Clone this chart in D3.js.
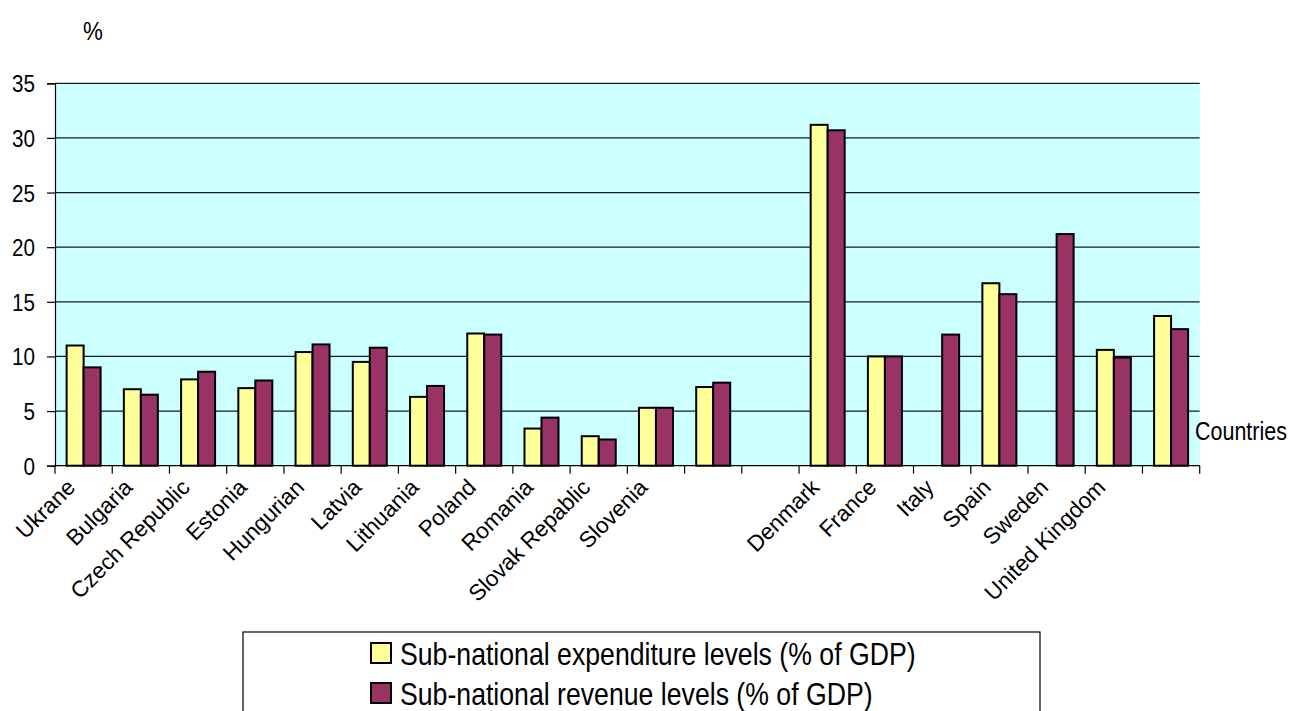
<!DOCTYPE html>
<html>
<head>
<meta charset="utf-8">
<script src="https://cdn.jsdelivr.net/npm/d3@7"></script>
<style>
  html, body { margin: 0; padding: 0; background: #fff; }
  svg { display: block; font-family: "Liberation Sans", Arial, sans-serif; }
</style>
</head>
<body>
<svg id="chart" width="1291" height="711"></svg>
<script>
// Category labels (blank entries are unlabeled groups on the axis)
const countries = [
  "Ukrane", "Bulgaria", "Czech Republic", "Estonia", "Hungurian", "Latvia",
  "Lithuania", "Poland", "Romania", "Slovak Repablic", "Slovenia", "", "",
  "Denmark", "France", "Italy", "Spain", "Sweden", "United Kingdom", ""
];
// Sub-national expenditure levels (% of GDP)
const expenditure = [
  11.0, 7.0, 7.9, 7.1, 10.4, 9.5, 6.3, 12.1, 3.4, 2.7, 5.3, 7.2, null,
  31.2, 10.0, null, 16.7, null, 10.6, 13.7
];
// Sub-national revenue levels (% of GDP)
const revenue = [
  9.0, 6.5, 8.6, 7.8, 11.1, 10.8, 7.3, 12.0, 4.4, 2.4, 5.3, 7.6, null,
  30.7, 10.0, 12.0, 15.7, 21.2, 9.9, 12.5
];
const seriesNames = [
  "Sub-national expenditure levels (% of GDP)",
  "Sub-national revenue levels (% of GDP)"
];
const seriesColors = ["#FFFF99", "#993366"];
const yTicks = [0, 5, 10, 15, 20, 25, 30, 35];

// horizontal text is drawn slightly condensed
const SX = 0.86;

const svg = d3.select("#chart");
const plot = { left: 55, right: 1199.7, top: 83.3, bottom: 465.7 };

const idx = countries.map((_, i) => i);
const x0 = d3.scaleBand()
  .domain(idx)
  .range([plot.left, plot.right])
  .paddingInner(0.406)
  .paddingOuter(0.203);
const x1 = d3.scaleBand()
  .domain([0, 1])
  .range([0, x0.bandwidth()]);
const y = d3.scaleLinear().domain([0, 35]).range([plot.bottom, plot.top]);

// plot background
svg.append("rect")
  .attr("x", plot.left).attr("y", plot.top)
  .attr("width", plot.right - plot.left).attr("height", plot.bottom - plot.top)
  .attr("fill", "#CCFFFF");

// horizontal gridlines
svg.append("g")
  .selectAll("line")
  .data(yTicks.filter(d => d > 0))
  .join("line")
  .attr("x1", plot.left).attr("x2", plot.right)
  .attr("y1", d => y(d)).attr("y2", d => y(d))
  .attr("stroke", "#1a1a1a").attr("stroke-width", 1.2);

// y axis
const yAxis = d3.axisLeft(y).tickValues(yTicks).tickSize(8).tickFormat("");
const gy = svg.append("g")
  .attr("transform", `translate(${plot.left},0)`)
  .call(yAxis);
gy.select(".domain").attr("stroke", "#000").attr("stroke-width", 1.2);
gy.selectAll(".tick line").attr("stroke", "#000").attr("stroke-width", 1.2);
gy.selectAll(".tick")
  .append("text")
  .attr("transform", `translate(-20,8.5) scale(${SX},1)`)
  .attr("text-anchor", "end")
  .attr("font-size", 24)
  .attr("fill", "#000")
  .text(d => d);

// x axis: ticks at category boundaries
const step = x0.step();
const boundaries = d3.range(countries.length + 1).map(i => plot.left + i * step);
const gx = svg.append("g");
gx.append("line")
  .attr("x1", plot.left).attr("x2", plot.right)
  .attr("y1", plot.bottom).attr("y2", plot.bottom)
  .attr("stroke", "#000").attr("stroke-width", 1.2);
gx.selectAll("line.tk")
  .data(boundaries)
  .join("line")
  .attr("class", "tk")
  .attr("x1", d => d).attr("x2", d => d)
  .attr("y1", plot.bottom).attr("y2", plot.bottom + 8)
  .attr("stroke", "#000").attr("stroke-width", 1.2);

// bars
const groups = svg.append("g")
  .selectAll("g")
  .data(idx)
  .join("g")
  .attr("transform", i => `translate(${x0(i)},0)`);
groups.selectAll("rect")
  .data(i => [expenditure[i], revenue[i]]
    .map((v, s) => ({ v, s }))
    .filter(d => d.v != null))
  .join("rect")
  .attr("x", d => x1(d.s))
  .attr("y", d => y(d.v))
  .attr("width", x1.bandwidth())
  .attr("height", d => y(0) - y(d.v))
  .attr("fill", d => seriesColors[d.s])
  .attr("stroke", "#000")
  .attr("stroke-width", 2);

// category labels, rotated 45 degrees
svg.append("g")
  .selectAll("text")
  .data(idx.filter(i => countries[i] !== ""))
  .join("text")
  .attr("transform", i => `translate(${x0(i) + x0.bandwidth() / 2 - 7},${plot.bottom + 23}) rotate(-45)`)
  .attr("text-anchor", "end")
  .attr("font-size", 22.5)
  .attr("fill", "#000")
  .text(i => countries[i]);

// axis titles
svg.append("text")
  .attr("transform", `translate(83,40) scale(${SX},1)`)
  .attr("font-size", 26)
  .text("%");
svg.append("text")
  .attr("transform", `translate(1195,440) scale(${SX},1)`)
  .attr("font-size", 25)
  .text("Countries");

// legend
const legend = svg.append("g");
legend.append("rect")
  .attr("x", 243).attr("y", 632)
  .attr("width", 797).attr("height", 100)
  .attr("fill", "#fff")
  .attr("stroke", "#000").attr("stroke-width", 1.2);
const rows = legend.selectAll("g.row")
  .data(seriesNames)
  .join("g")
  .attr("class", "row")
  .attr("transform", (d, i) => `translate(371,${643 + i * 40})`);
rows.append("rect")
  .attr("width", 20).attr("height", 20)
  .attr("fill", (d, i) => seriesColors[i])
  .attr("stroke", "#000").attr("stroke-width", 2);
rows.append("text")
  .attr("transform", `translate(29,22) scale(${SX},1)`)
  .attr("font-size", 31)
  .text(d => d);
</script>
</body>
</html>
